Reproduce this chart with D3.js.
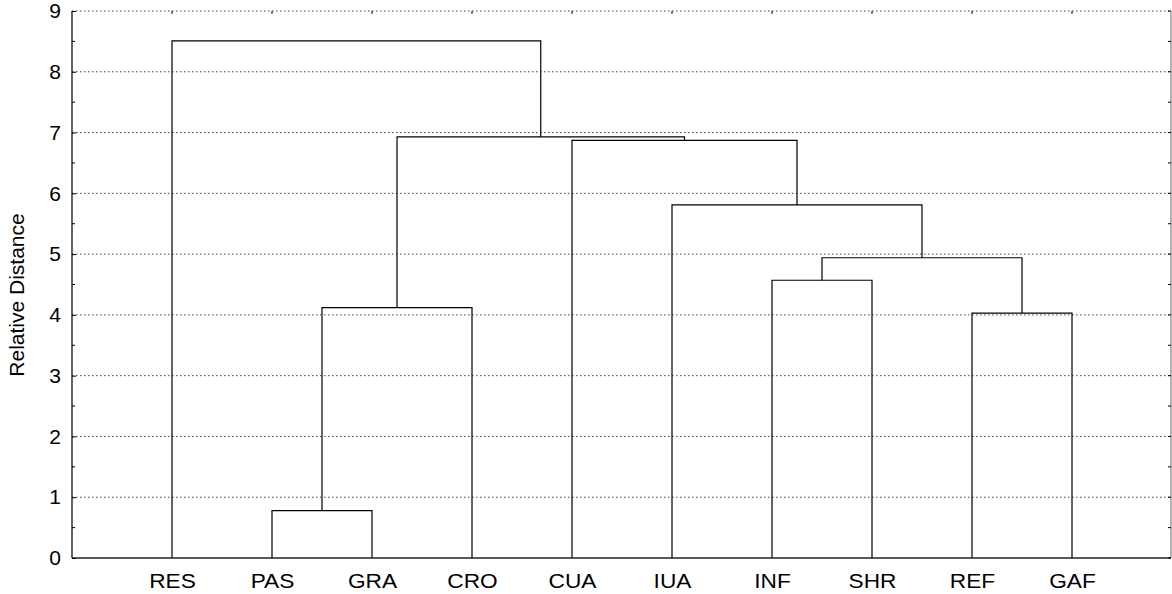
<!DOCTYPE html>
<html>
<head>
<meta charset="utf-8">
<script src="https://cdn.jsdelivr.net/npm/d3@7"></script>
<style>
  body { margin: 0; background: #fff; }
  text { font-family: "Liberation Sans", Arial, sans-serif; fill: #000; }
</style>
</head>
<body>
<svg id="chart" width="1172" height="594"></svg>
<script>
// leaves in plot order
var leaves = ['RES', 'PAS', 'GRA', 'CRO', 'CUA', 'IUA', 'INF', 'SHR', 'REF', 'GAF'];
// merges: [left node, right node, height]; nodes >= 10 are earlier merges
var mergeLeft   = [1, 10, 8, 6, 13, 5, 4, 11, 0];
var mergeRight  = [2, 3, 9, 7, 12, 14, 15, 16, 17];
var mergeHeight = [0.78, 4.12, 4.03, 4.57, 4.94, 5.81, 6.87, 6.93, 8.51];
var yTicks = [0, 1, 2, 3, 4, 5, 6, 7, 8, 9];

(function() {
    var svg = d3.select('#chart');
    var mLeft = 72, mRight = 1171, mTop = 11, mBottom = 558;

    var x = d3.scaleLinear().domain([0, leaves.length + 1]).range([mLeft, mLeft + 1100]);
    var y = d3.scaleLinear().domain([0, 9]).range([mBottom, mTop]);

    // gridlines
    svg.append('g')
        .selectAll('line')
        .data(yTicks.slice(1))
        .join('line')
        .attr('x1', mLeft).attr('x2', mRight)
        .attr('y1', function(d) { return y(d); })
        .attr('y2', function(d) { return y(d); })
        .attr('stroke', '#444')
        .attr('stroke-width', 1)
        .attr('stroke-dasharray', '1.5,2.5');

    // node positions: leaves first, then merges
    var nodeX = leaves.map(function(d, i) { return x(i + 1); });
    var nodeY = leaves.map(function() { return y(0); });
    var links = [];
    mergeHeight.forEach(function(h, i) {
        var a = mergeLeft[i], b = mergeRight[i];
        var yy = y(h);
        links.push('M' + nodeX[a] + ',' + nodeY[a] + 'V' + yy + 'H' + nodeX[b] + 'V' + nodeY[b]);
        nodeX.push((nodeX[a] + nodeX[b]) / 2);
        nodeY.push(yy);
    });

    svg.append('g')
        .selectAll('path')
        .data(links)
        .join('path')
        .attr('d', function(d) { return d; })
        .attr('fill', 'none')
        .attr('stroke', '#000')
        .attr('stroke-width', 1.2);

    // frame: left and bottom solid, right lighter
    svg.append('line').attr('x1', mLeft).attr('x2', mLeft).attr('y1', mTop).attr('y2', mBottom)
        .attr('stroke', '#222').attr('stroke-width', 1.4);
    svg.append('line').attr('x1', mLeft).attr('x2', mRight).attr('y1', mBottom).attr('y2', mBottom)
        .attr('stroke', '#222').attr('stroke-width', 1.6);
    svg.append('line').attr('x1', mRight).attr('x2', mRight).attr('y1', mTop).attr('y2', mBottom)
        .attr('stroke', '#666').attr('stroke-width', 1);

    // y axis (ticks inside)
    var yAxis = d3.axisLeft(y).tickValues(yTicks).tickSize(-4).tickPadding(11).tickFormat(d3.format('d'));
    var gy = svg.append('g').attr('transform', 'translate(' + mLeft + ',0)').call(yAxis);
    gy.select('.domain').remove();
    gy.selectAll('text').style('font-size', '21px');

    var minor = d3.range(0.5, 9, 1);
    svg.append('g').selectAll('line').data(minor).join('line')
        .attr('x1', mLeft).attr('x2', mLeft + 3)
        .attr('y1', function(d) { return y(d); }).attr('y2', function(d) { return y(d); })
        .attr('stroke', '#000');
    svg.append('g').selectAll('line').data(minor.concat(yTicks)).join('line')
        .attr('x1', mRight).attr('x2', mRight - 3)
        .attr('y1', function(d) { return y(d); }).attr('y2', function(d) { return y(d); })
        .attr('stroke', '#000');

    // x axis labels
    var xAxis = d3.axisBottom(x).tickValues(d3.range(1, leaves.length + 1))
        .tickSize(0).tickPadding(15)
        .tickFormat(function(d) { return leaves[d - 1]; });
    var gx = svg.append('g').attr('transform', 'translate(0,' + mBottom + ')').call(xAxis);
    gx.select('.domain').remove();
    gx.selectAll('text')
        .style('font-size', '21px')
        .attr('transform', 'scale(1.08,1)');

    // top ticks
    svg.append('g').selectAll('line').data(d3.range(1, leaves.length + 1)).join('line')
        .attr('x1', function(d) { return x(d); }).attr('x2', function(d) { return x(d); })
        .attr('y1', mTop).attr('y2', mTop + 3)
        .attr('stroke', '#000');

    svg.append('text')
        .attr('transform', 'translate(24,295) rotate(-90)')
        .attr('text-anchor', 'middle')
        .style('font-size', '21px')
        .text('Relative Distance');
})();
</script>
</body>
</html>
